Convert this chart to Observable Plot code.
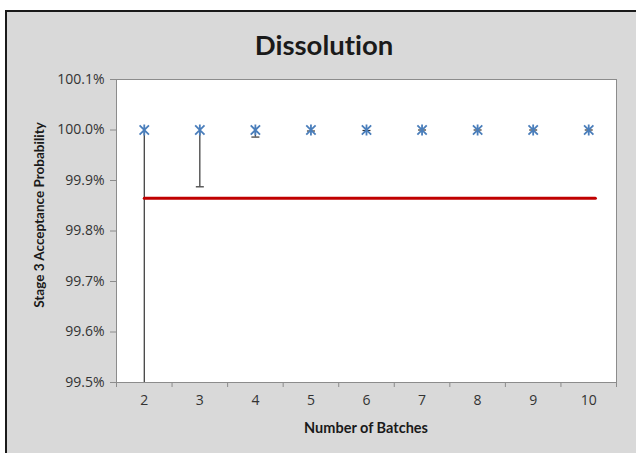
<!DOCTYPE html>
<html>
<head>
<meta charset="utf-8">
<script src="https://cdn.jsdelivr.net/npm/d3@7"></script>
<script src="https://cdn.jsdelivr.net/npm/@observablehq/plot@0.6"></script>
<style>
  html, body { margin: 0; padding: 0; background: #ffffff; }
  #wrap { position: relative; width: 636px; height: 453px; overflow: hidden; background: #ffffff; font-family: Lato, "Open Sans", sans-serif; font-variant-ligatures: none; }
  #panel { position: absolute; left: 5px; top: 10px; right: -2px; bottom: -2px; background: #d9d9d9; border-top: 2px solid #1a1a1a; border-left: 2px solid #1a1a1a; }
  #chart { position: absolute; left: 0; top: 0; }
  .lbl { position: absolute; font-weight: bold; color: #1a1a1a; white-space: nowrap; line-height: 1; font-variant-ligatures: none; }
  #title { left: 324px; top: 31px; font-size: 27.5px; transform: translateX(-50%); }
  #xlab { left: 366px; top: 421px; font-size: 14.5px; transform: translateX(-50%); }
  #ylab { left: 40px; top: 215px; font-size: 13.5px; transform: translate(-50%, -50%) rotate(-90deg); }
  #chart svg text { font-variant-ligatures: none; }
</style>
</head>
<body>
<div id="wrap">
  <div id="panel"></div>
  <div id="chart"></div>
  <div class="lbl" id="title">Dissolution</div>
  <div class="lbl" id="xlab">Number of Batches</div>
  <div class="lbl" id="ylab">Stage 3 Acceptance Probability</div>
</div>
<script>
// Data (values in percent)
const batches = [2, 3, 4, 5, 6, 7, 8, 9, 10];
const xTickLabels = ["2", "3", "4", "5", "6", "7", "8", "9", "10"];
const acceptance = [100.0, 100.0, 100.0, 100.0, 100.0, 100.0, 100.0, 100.0, 100.0];
const lowerBound = [99.3, 99.8875, 99.986, 99.998, 99.999, 100.0, 100.0, 100.0, 100.0];
const limitX = [2, 10.12];
const limitY = [99.865, 99.865];
const yTicks = [99.5, 99.6, 99.7, 99.8, 99.9, 100.0, 100.1];
const xBoundaries = [1.5, 2.5, 3.5, 4.5, 5.5, 6.5, 7.5, 8.5, 9.5, 10.5];

const points = batches.map((b, i) => ({batch: b, prob: acceptance[i], lower: lowerBound[i]}));
const limit = limitX.map((x, i) => ({x, y: limitY[i]}));

const starSymbol = {
  draw(context, size) {
    const r = Math.sqrt(size / Math.PI);
    const d = r * 0.85;
    context.moveTo(0, -r); context.lineTo(0, r);
    context.moveTo(-d, -d); context.lineTo(d, d);
    context.moveTo(-d, d); context.lineTo(d, -d);
  }
};
const capSymbol = {
  draw(context, size) {
    const r = Math.sqrt(size / Math.PI);
    context.moveTo(-r, 0); context.lineTo(r, 0);
  }
};

const chart = Plot.plot({
  width: 636,
  height: 453,
  marginLeft: 116,
  marginRight: 20,
  marginTop: 79,
  marginBottom: 71,
  style: {background: "transparent", fontFamily: "'Open Sans', Lato, sans-serif", fontSize: "14px", color: "#333333"},
  x: {domain: [1.5, 10.5]},
  y: {domain: [99.5, 100.1]},
  marks: [
    Plot.frame({fill: "white", stroke: null}),
    Plot.axisY({ticks: yTicks, tickFormat: d => d.toFixed(1) + "%", tickSize: 6, tickPadding: 6, label: null, stroke: "#8c8c8c", fill: "#333333", fontSize: 14}),
    Plot.axisX({ticks: xBoundaries, tickSize: 5, tickFormat: () => "", label: null, stroke: "#8c8c8c"}),
    Plot.axisX({ticks: batches, tickSize: 0, tickPadding: 13, tickFormat: (d, i) => xTickLabels[i], label: null, fill: "#333333", fontSize: 14}),
    Plot.frame({stroke: "#8c8c8c"}),
    Plot.ruleX(points, {x: "batch", y1: "lower", y2: "prob", stroke: "#333333", strokeWidth: 1.2, clip: true}),
    Plot.dot(points, {x: "batch", y: "lower", symbol: capSymbol, r: 4, stroke: "#333333", strokeWidth: 1.2, clip: true}),
    Plot.line(limit, {x: "x", y: "y", stroke: "#c00000", strokeWidth: 3}),
    Plot.dot(points, {x: "batch", y: "prob", symbol: starSymbol, r: 5.5, stroke: "#4a7ebb", strokeWidth: 1.8})
  ]
});
document.getElementById("chart").appendChild(chart);
</script>
</body>
</html>
